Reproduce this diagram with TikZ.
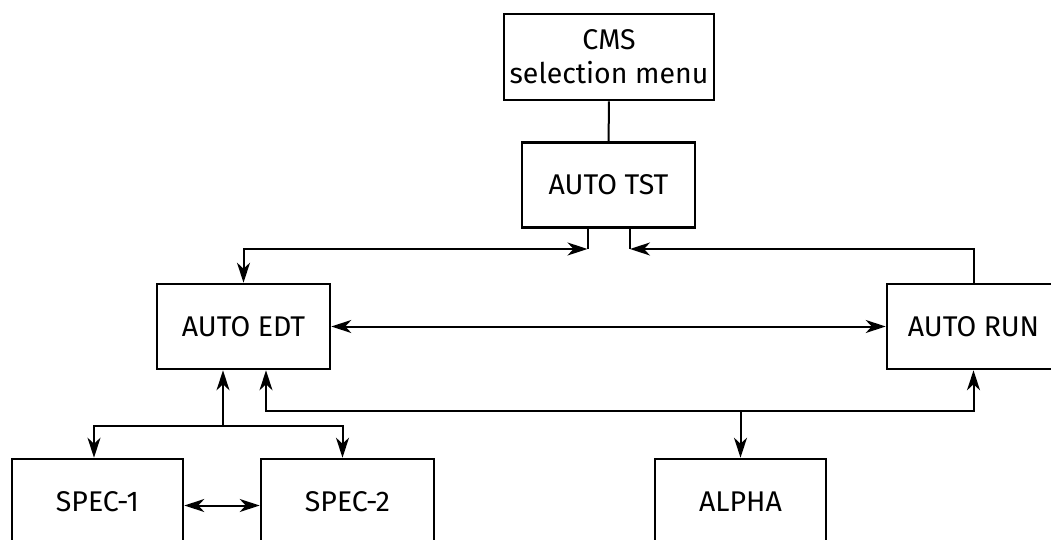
\documentclass[tikz,border=0pt]{standalone}
\usepackage{fontspec}
\setmainfont{Fira Sans}
\usetikzlibrary{arrows.meta,positioning}

\begin{document}
\begin{tikzpicture}[
    x=1pt, y=-1pt,
    >={Stealth[length=20pt,width=13pt,inset=6pt]},
    font=\fontsize{28.5}{34}\selectfont,
    box/.style={
        draw,
        line width=2.6pt,
        align=center,
        minimum width=173pt,
        minimum height=85pt,
        inner sep=0pt
    },
    link/.style={
        line width=2pt
    }
]

% ---------------------------------
% Frame
% ---------------------------------
\useasboundingbox (0, 0) rectangle (1051, 540);

% ---------------------------------
% Boxes
% ---------------------------------
\node[box, minimum width=210pt, minimum height=86pt] (cms) at (609, 57) {CMS\\selection menu};

\node[box] (tst) at (608.5, 185) {AUTO TST};

\node[box] (edt) at (243.5, 326.5) {AUTO EDT};

\node[box] (run) at (973.5, 326.5) {AUTO RUN};

\node[box, minimum width=171pt] (spec1) at (97.5, 501.5) {SPEC-1};

\node[box] (spec2) at (347.5, 501.5) {SPEC-2};

\node[box, minimum width=171pt] (alpha) at (740.5, 501.5) {ALPHA};

% ---------------------------------
% Connectors
% ---------------------------------
\coordinate (tstL) at (587.5, 249);
\coordinate (tstR) at (630, 249);
\coordinate (busR) at (973.5, 411);
\coordinate (fork) at (223, 426);

\draw[link] (cms) -- (tst);

\draw[link] (tst.south -| tstL) -- (tstL);
\draw[link] (tst.south -| tstR) -- (tstR);

\draw[link, <->] (edt.north) |- (tstL);
\draw[link, ->] (run.north) |- (tstR);

\draw[link, <->] (edt) -- (run);

\draw[link, <->] ([xshift=22.5pt]edt.south) |- (busR) -- (run.south);
\draw[link, ->] (alpha.north |- busR) -- (alpha.north);

\draw[link, ->] (fork) -- (fork |- edt.south);
\draw[link, <->] ([xshift=-3.5pt]spec1.north) |- (fork) -| ([xshift=-5pt]spec2.north);

\draw[link, <->] ([yshift=-4pt]spec1.east) -- ([yshift=-4pt]spec2.west);

\end{tikzpicture}
\end{document}
